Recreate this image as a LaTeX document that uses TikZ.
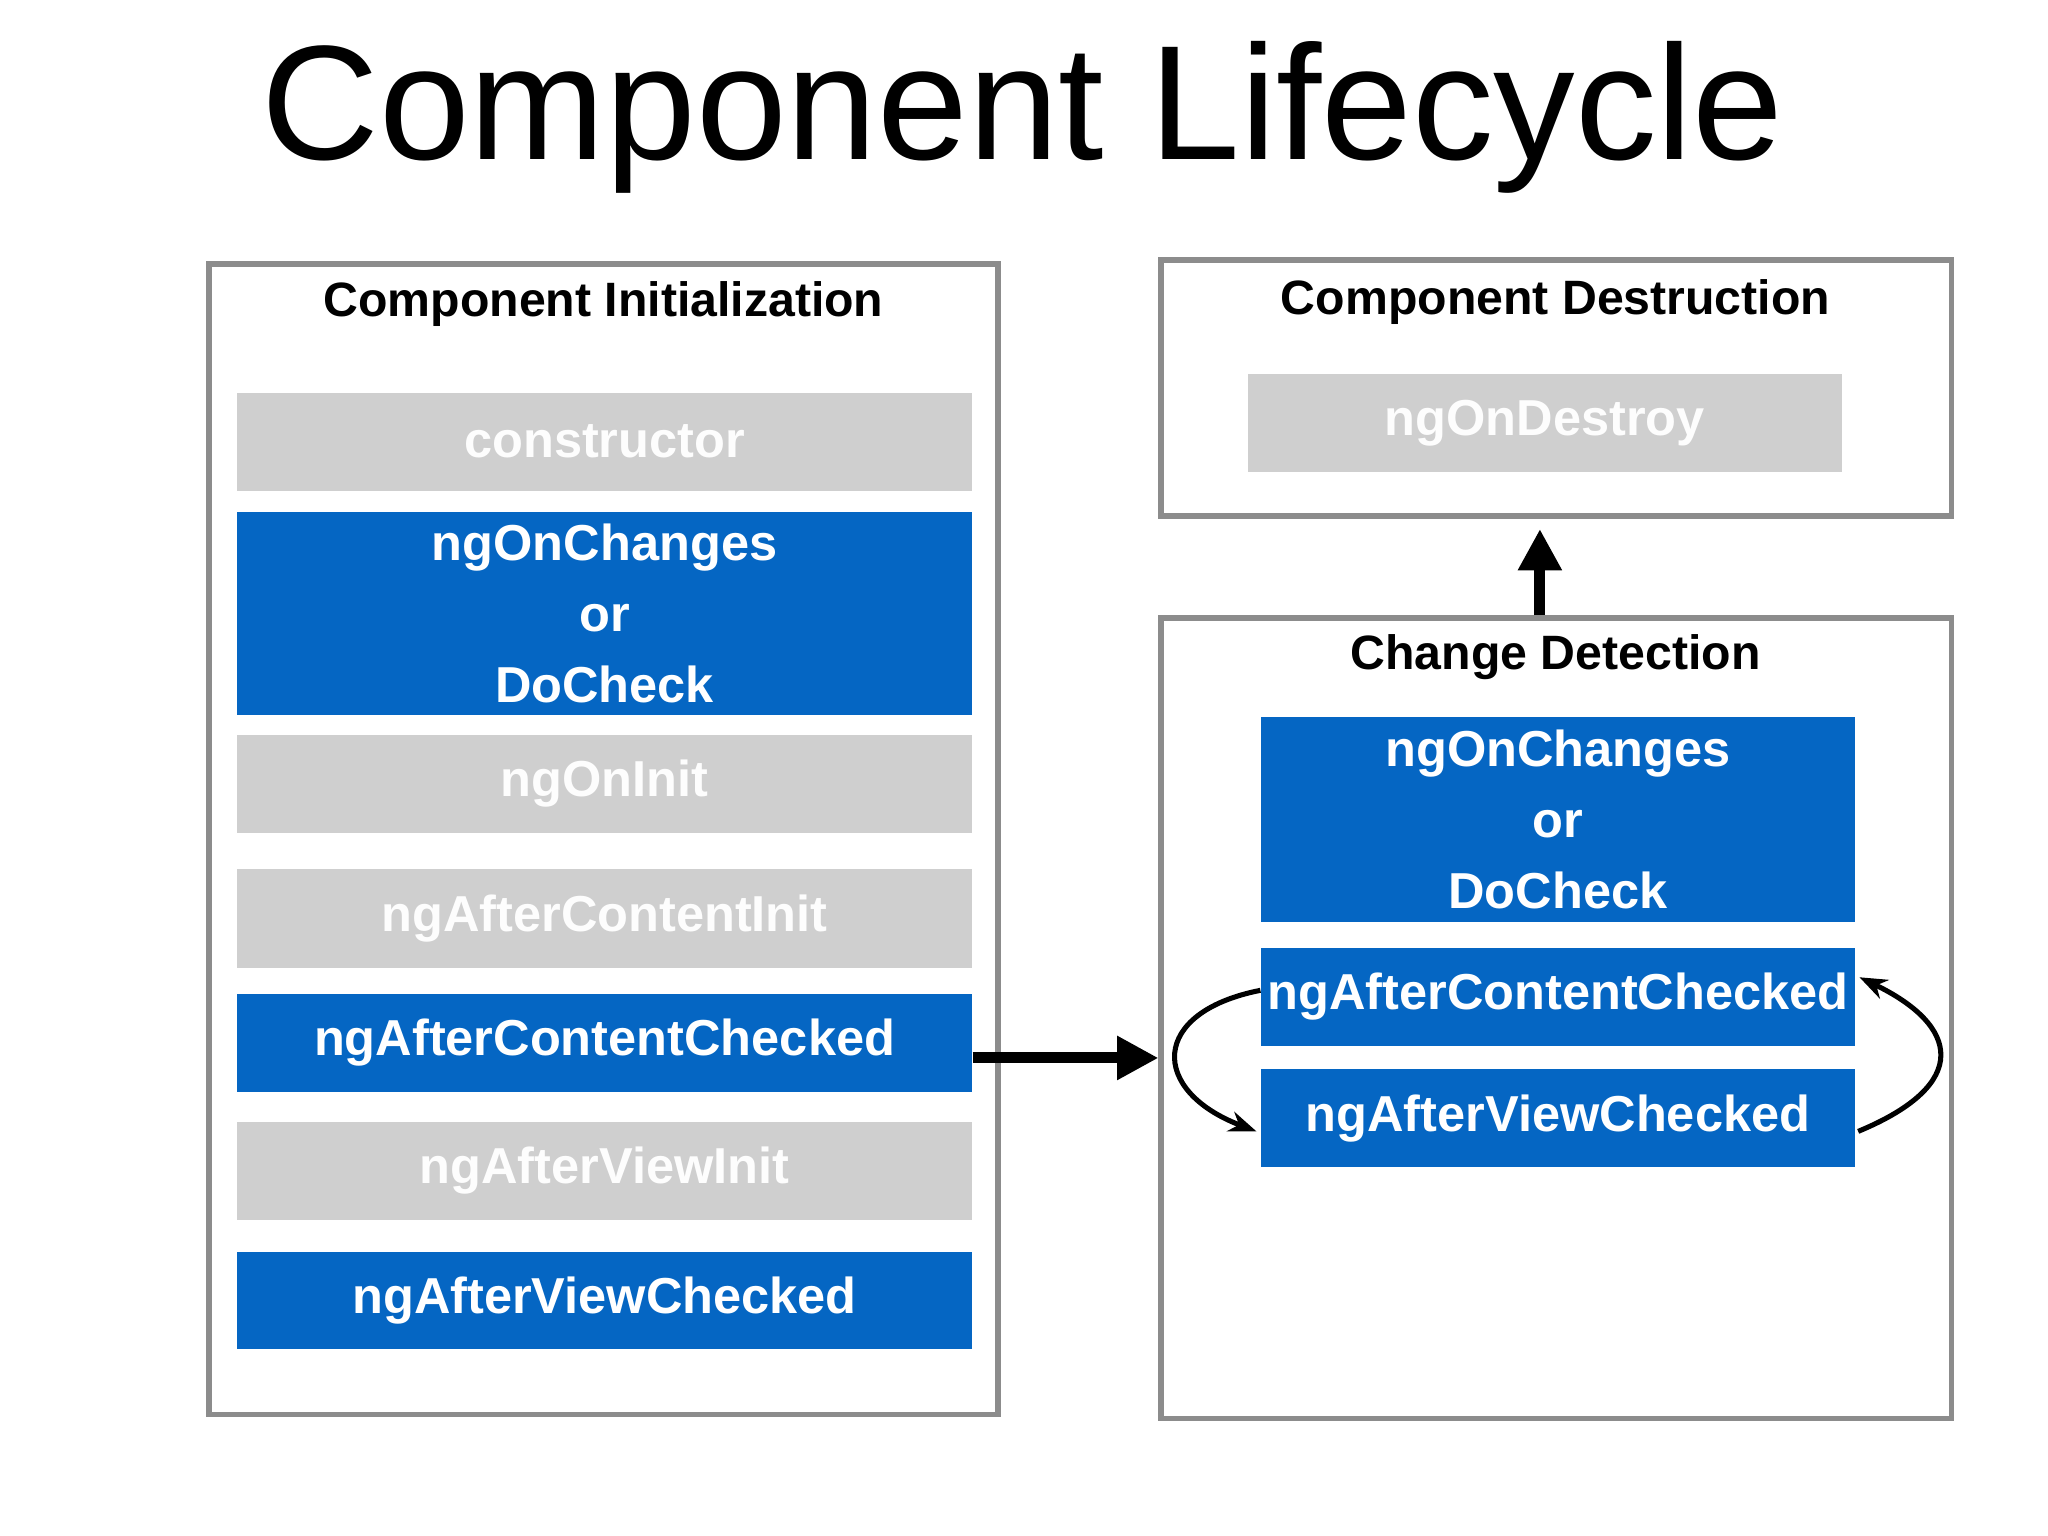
\documentclass[tikz,border=0pt]{standalone}
\usepackage{fontspec}
\setmainfont{Liberation Sans}
\definecolor{lcBlue}{HTML}{0566C3}
\definecolor{lcGray}{HTML}{CFCFCF}
\definecolor{lcFrame}{HTML}{8C8C8C}
\usetikzlibrary{calc,positioning,arrows.meta}

\begin{document}
\begin{tikzpicture}[x=0.01cm,y=-0.01cm,
  frame/.style={draw=lcFrame, line width=1.2pt, fill=white},
  hook/.style={font=\fontsize{10.5}{12}\selectfont\bfseries, anchor=center},
  step/.style={minimum width=#1, minimum height=0.75cm, inner sep=0pt, align=center,
    font=\fontsize{11}{15.5}\selectfont\bfseries, text=white, anchor=north west},
  grey/.style={step=#1, fill=lcGray, text=white!96!lcGray},
  blue/.style={step=#1, fill=lcBlue}]
  \useasboundingbox (0,0) rectangle (1568,1176);

  % Title
  \node[font=\fontsize{35.5}{38}\selectfont] (title) at (783,90) {Component Lifecycle};

  % Initialization frame
  \draw[frame] (160,202) rectangle (764,1083);
  \node[hook] (initTitle) at (462,233) {Component Initialization};
  \node[grey=5.62cm] (ctor) at (181,300) {constructor};
  \node[blue=5.62cm, minimum height=1.56cm] (initChanges) at (181,391) {ngOnChanges\\or\\DoCheck};
  \node[grey=5.62cm] (onInit) at (181,562) {ngOnInit};
  \node[grey=5.62cm] (contentInit) at (181,665) {ngAfterContentInit};
  \node[blue=5.62cm] (initContentChecked) at (181,760) {ngAfterContentChecked};
  \node[grey=5.62cm] (viewInit) at (181,858) {ngAfterViewInit};
  \node[blue=5.62cm, minimum height=0.74cm] (initViewChecked) at (181,958) {ngAfterViewChecked};

  % Destruction frame
  \draw[frame] (889,199) rectangle (1494,395);
  \node[hook] (destroyTitle) at (1191,231) {Component Destruction};
  \node[grey=4.54cm] (destroy) at (955,286) {ngOnDestroy};
  \coordinate (destroyFoot) at (1179,405);

  % Change detection frame
  \draw[frame] (889,473) rectangle (1494,1086);
  \node[hook] (cdTitle) at (1191,503) {Change Detection};
  \node[blue=4.54cm, minimum height=1.57cm] (cdChanges) at (965,548) {ngOnChanges\\or\\DoCheck};
  \node[blue=4.54cm] (cdContentChecked) at (965,725) {ngAfterContentChecked};
  \node[blue=4.54cm] (cdViewChecked) at (965,818) {ngAfterViewChecked};
  \coordinate (cdTop) at (1179,471);
  \coordinate (cdEntry) at (887,810);

  % Connectors
  \draw[line width=2.4pt, -{Triangle[length=9pt,width=9pt]}] (cdTop) -- (destroyFoot);
  \draw[line width=2.4pt, -{Triangle[length=9pt,width=9pt]}] (initContentChecked.east |- cdEntry) -- (cdEntry);
  \draw[line width=1.1pt, -{Stealth[length=6pt]}] ($(cdContentChecked.west)+(0,-5)$)
    .. controls (880,775) and (880,835) .. ($(cdViewChecked.west)+(-3,10)$);
  \draw[line width=1.1pt, -{Stealth[length=6pt]}] ($(cdViewChecked.east)+(2,10)$)
    .. controls (1510,830) and (1500,785) .. ($(cdContentChecked.east)+(3,-15)$);
\end{tikzpicture}
\end{document}
